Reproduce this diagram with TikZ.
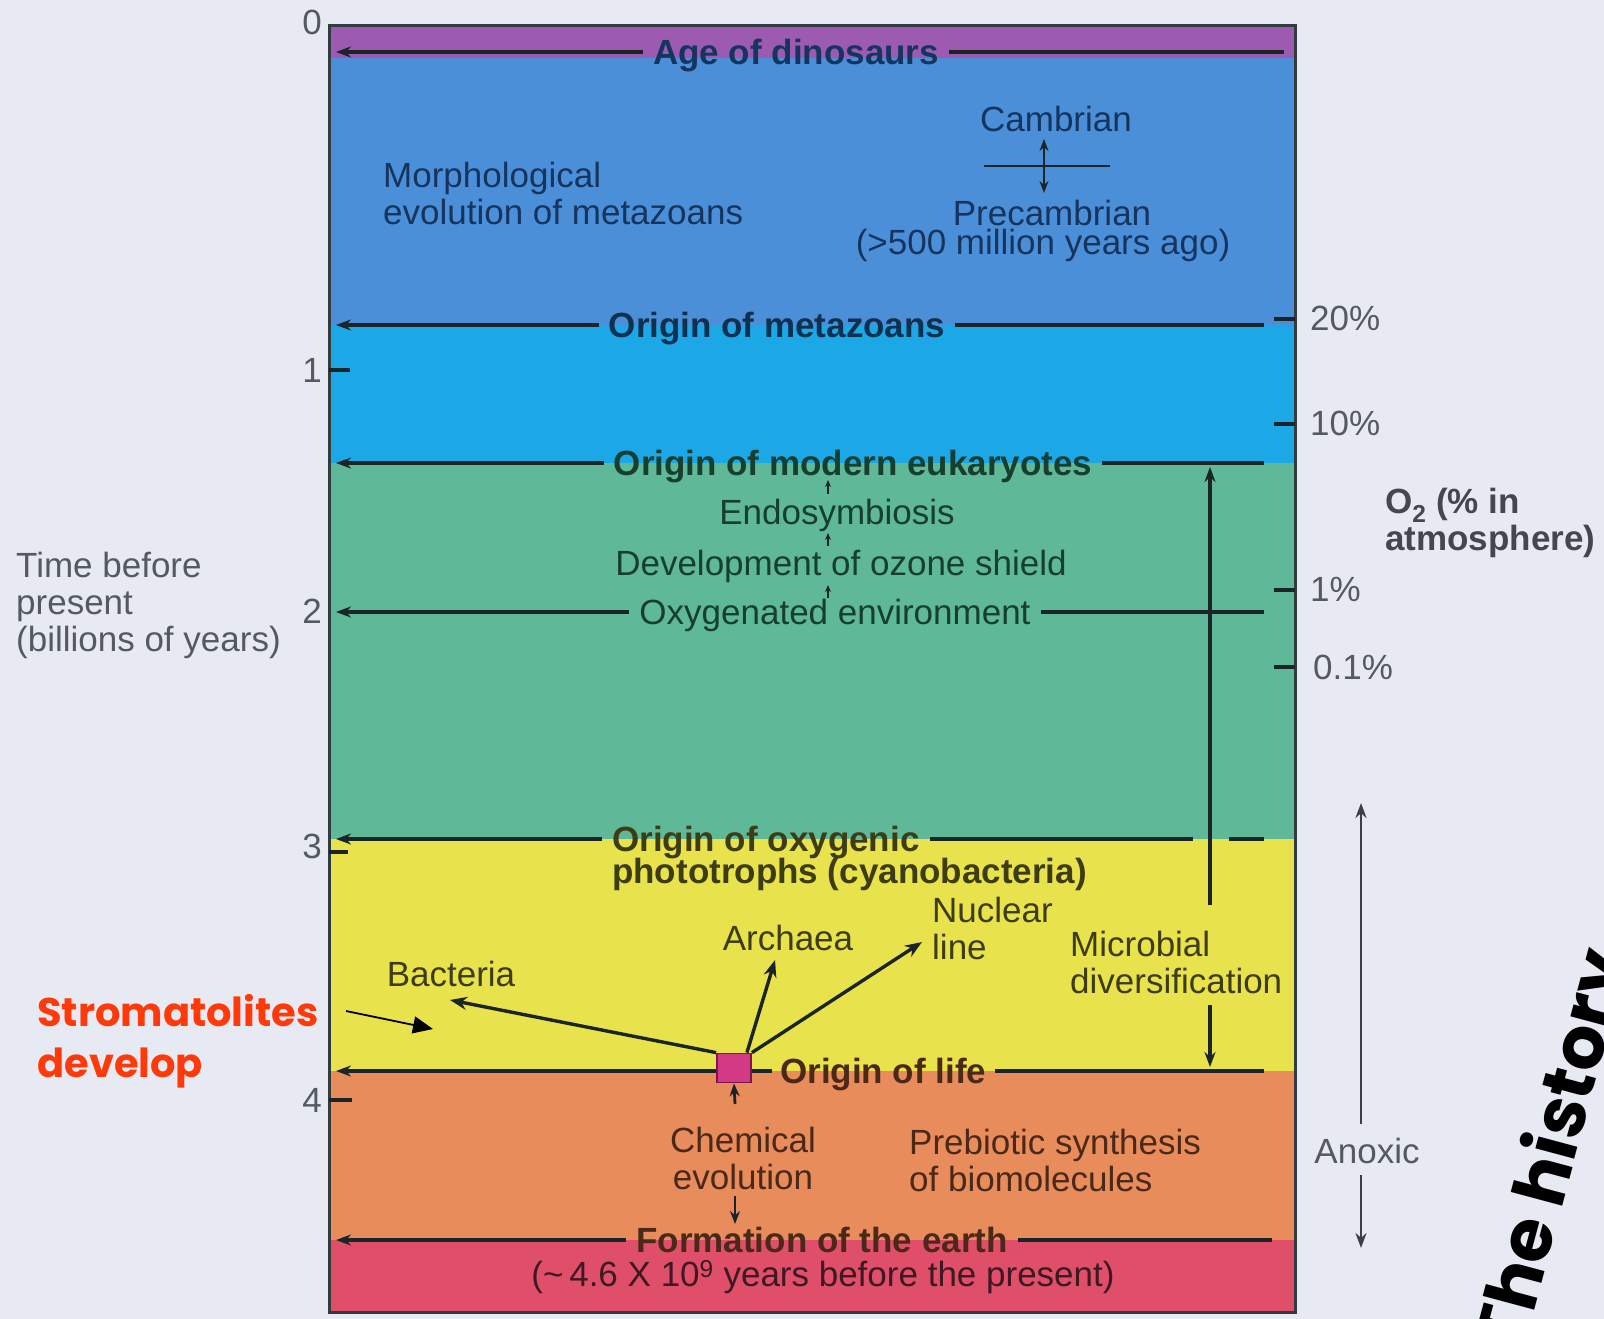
\documentclass[tikz,border=0pt]{standalone}
\usepackage{fontspec}
\setmainfont{Liberation Sans}
\newfontfamily\comicf{Poppins}
\usetikzlibrary{arrows.meta}
\definecolor{bgc}{HTML}{E7EAF2}
\definecolor{purp}{HTML}{9C5BB1}
\definecolor{blu}{HTML}{4C8FD9}
\definecolor{cya}{HTML}{1CA7E7}
\definecolor{grn}{HTML}{5FB999}
\definecolor{yel}{HTML}{E8E34C}
\definecolor{ora}{HTML}{E98C5B}
\definecolor{redd}{HTML}{E04F69}
\definecolor{ink}{HTML}{1B2527}
\definecolor{graytxt}{HTML}{555A62}
\definecolor{tblue}{HTML}{15345E}
\definecolor{tcya}{HTML}{0E3150}
\definecolor{tgreen}{HTML}{173F2E}
\definecolor{tyel}{HTML}{3E3C14}
\definecolor{tora}{HTML}{4A2919}
\definecolor{tred}{HTML}{3E1822}
\definecolor{strom}{HTML}{FF3A0A}
\definecolor{sqc}{HTML}{D23A86}
\definecolor{sqd}{HTML}{7E1448}
\tikzset{
  tl/.style={line width=3.4pt, draw=ink},
  tla/.style={tl, -{Stealth[length=15pt,width=11pt]}},
  tra/.style={tl, -{Stealth[length=17pt,width=13pt]}},
  sma/.style={draw=ink, line width=1.8pt, -{Stealth[length=7pt,width=6pt]}},
  lab/.style={inner sep=0pt, align=left, font=\fontsize{35}{37}\selectfont},
  blab/.style={inner sep=0pt, align=left, font=\fontsize{35}{37}\selectfont\bfseries},
  onl/.style={inner xsep=10pt, text height=25pt, text depth=0pt},
  tick/.style={line width=3.4pt, draw=ink}
}
\begin{document}
\begin{tikzpicture}[x=1pt,y=-1pt]
\useasboundingbox (0,0) rectangle (1604,1319);
\fill[bgc] (0,0) rectangle (1604,1319);
% bands
\fill[purp] (329,26) rectangle (1295,58);
\fill[blu] (329,58) rectangle (1295,325);
\fill[cya] (329,325) rectangle (1295,463);
\fill[grn] (329,463) rectangle (1295,839);
\fill[yel] (329,839) rectangle (1295,1071);
\fill[ora] (329,1071) rectangle (1295,1240);
\fill[redd] (329,1240) rectangle (1295,1312);
\draw[line width=3pt, draw=ink!90] (329,26) rectangle (1295,1312);

% left axis
\foreach \n/\y in {0/22,1/370,2/611,3/846,4/1100}
  \node[lab, text=graytxt, anchor=east] (ax\n) at (322,\y) {\n};
\draw[tick] (329,370) -- (350,370);
\draw[tick] (329,852) -- (348,852);
\draw[tick] (329,1100) -- (352,1100);
\node[lab, text=graytxt, anchor=west] (timelab) at (16,605) {Time before\\present\\(billions of years)};

% right O2 axis
\draw[tick] (1274,319) -- (1295,319);
\draw[tick] (1274,424) -- (1295,424);
\draw[tick] (1274,590) -- (1295,590);
\draw[tick] (1274,667) -- (1295,667);
\node[lab, text=graytxt, anchor=west] (p20) at (1310,318) {20\%};
\node[lab, text=graytxt, anchor=west] (p10) at (1310,423) {10\%};
\node[lab, text=graytxt, anchor=west] (p1) at (1310,589) {1\%};
\node[lab, text=graytxt, anchor=west] (p01) at (1313,667) {0.1\%};
\node[blab, text=graytxt!80!black, anchor=west] (o2) at (1385,523) {O\textsubscript{2} (\% in\\atmosphere)};

% Age of dinosaurs
\coordinate (ageL) at (336,52);
\coordinate (ageR) at (1284,52);
\node[blab, onl, text=tblue] (age) at (796,52) {Age of dinosaurs};
\draw[tla] (age.west |- ageL) -- (ageL);
\draw[tl] (age.east |- ageR) -- (ageR);

% Morphological
\node[lab, text=tblue, anchor=west] (morph) at (383,193) {Morphological\\evolution of metazoans};

% Cambrian / Precambrian
\node[lab, text=tblue] (camb) at (1056,119) {Cambrian};
\node[lab, text=tblue] (precamb) at (1052,213) {Precambrian};
\node[lab, text=tblue] (ma) at (1043,245) {(>500 million years ago)};
\coordinate (cbL) at (984,166);
\coordinate (cbR) at (1110,166);
\coordinate (cbM) at (1044,166);
\coordinate (cbU) at (1044,139);
\coordinate (cbD) at (1044,193);
\draw[draw=ink, line width=2.2pt] (cbL) -- (cbR);
\draw[draw=ink, line width=2.6pt, -{Stealth[length=12pt,width=9pt]}] (cbM) -- (cbU);
\draw[draw=ink, line width=2.6pt, -{Stealth[length=12pt,width=9pt]}] (cbM) -- (cbD);

% Origin of metazoans
\coordinate (metL) at (336,325);
\coordinate (metR) at (1264,325);
\node[blab, onl, text=tcya] (meta) at (777,325) {Origin of metazoans};
\draw[tla] (meta.west |- metL) -- (metL);
\draw[tl] (meta.east |- metR) -- (metR);

% Origin of modern eukaryotes
\coordinate (eukL) at (336,463);
\coordinate (eukR) at (1264,463);
\node[blab, onl, text=tgreen] (euk) at (853,463) {Origin of modern eukaryotes};
\draw[tla] (euk.west |- eukL) -- (eukL);
\draw[tl] (euk.east |- eukR) -- (eukR);

\node[lab, text=tgreen] (endo) at (837,515) {Endosymbiosis};
\node[lab, text=tgreen] (ozone) at (841,566) {Development of ozone shield};
\coordinate (e1a) at (828,494); \coordinate (e1b) at (828,480);
\coordinate (e2a) at (828,546); \coordinate (e2b) at (828,533);
\coordinate (e3a) at (828,598); \coordinate (e3b) at (828,585);
\draw[sma] (e1a) -- (e1b);
\draw[sma] (e2a) -- (e2b);
\draw[sma] (e3a) -- (e3b);

% Oxygenated environment
\coordinate (oxyL) at (336,612);
\coordinate (oxyR) at (1264,612);
\node[lab, onl, text=tgreen] (oxy) at (835,612) {Oxygenated environment};
\draw[tla] (oxy.west |- oxyL) -- (oxyL);
\draw[tl] (oxy.east |- oxyR) -- (oxyR);

% Origin of oxygenic phototrophs
\coordinate (ogL) at (336,839);
\coordinate (ogG1) at (1193,839);
\coordinate (ogG2) at (1229,839);
\coordinate (ogR) at (1264,839);
\node[blab, onl, text=tyel, anchor=west] (og1) at (602,839) {Origin of oxygenic};
\node[blab, text=tyel, anchor=west] (og2) at (612,874) {phototrophs (cyanobacteria)};
\draw[tla] (og1.west |- ogL) -- (ogL);
\draw[tl] (og1.east |- ogL) -- (ogG1);
\draw[tl] (ogG2) -- (ogR);

% Microbial diversification
\coordinate (mdT) at (1210,467);
\coordinate (mdA) at (1210,905);
\coordinate (mdB) at (1210,1005);
\coordinate (mdBot) at (1210,1067);
\node[lab, text=tyel, anchor=west] (micro) at (1070,962) {Microbial\\diversification};
\draw[tla] (mdA) -- (mdT);
\draw[tla] (mdB) -- (mdBot);

% Origin of life
\coordinate (lifeL) at (336,1071);
\coordinate (lifeR) at (1264,1071);
\node[draw=sqd, fill=sqc, line width=1.8pt, minimum width=34pt, minimum height=29pt, inner sep=0pt] (sq) at (734,1068) {};
\node[blab, onl, inner xsep=8pt, text=tora, anchor=west] (life) at (772,1071) {Origin of life};
\draw[tla] (sq.west |- lifeL) -- (lifeL);
\draw[tl] (sq.east |- lifeL) -- (life.west |- lifeL);
\draw[tl] (life.east |- lifeR) -- (lifeR);

% tree
\node[lab, text=tyel] (bact) at (451,974) {Bacteria};
\node[lab, text=tyel] (arch) at (788,938) {Archaea};
\node[lab, text=tyel, anchor=west] (nuc) at (932,928) {Nuclear\\line};
\coordinate (bactT) at (450,1000);
\coordinate (archT) at (775,960);
\coordinate (nucT) at (922,942);
\draw[tra] (sq.north west) -- (bactT);
\draw[tra] ([xshift=-5pt]sq.north east) -- (archT);
\draw[tra] (sq.north east) -- (nucT);

% Chemical evolution
\node[lab, text=tora, align=center] (chem) at (743,1158) {Chemical\\evolution};
\node[lab, text=tora, anchor=west] (preb) at (909,1160) {Prebiotic synthesis\\of biomolecules};
\coordinate (ch1) at (735,1104);
\coordinate (ch2) at (735,1196);
\coordinate (ch3) at (735,1224);
\draw[draw=ink, line width=2.8pt, -{Stealth[length=13pt,width=10pt]}] (ch1) -- (sq.south);
\draw[draw=ink, line width=2.8pt, -{Stealth[length=13pt,width=10pt]}] (ch2) -- (ch3);

% Formation of the earth
\coordinate (forL) at (336,1240);
\coordinate (forR) at (1272,1240);
\node[blab, onl, text=tora] (form) at (822,1240) {Formation of the earth};
\draw[tla] (form.west |- forL) -- (forL);
\draw[tl] (form.east |- forR) -- (forR);
\node[lab, text=tred] (formb) at (823,1277) {(\textasciitilde\,4.6 X 10\textsuperscript{9} years before the present)};

% Anoxic
\coordinate (anU) at (1361,803);
\coordinate (an1) at (1361,1124);
\coordinate (an2) at (1361,1175);
\coordinate (anD) at (1361,1248);
\node[lab, text=graytxt] (anox) at (1367,1151) {Anoxic};
\draw[draw=graytxt!70!black, line width=2.8pt, -{Stealth[length=15pt,width=11pt]}] (an1) -- (anU);
\draw[draw=graytxt!70!black, line width=2.8pt, -{Stealth[length=15pt,width=11pt]}] (an2) -- (anD);

% Stromatolites
\node[inner sep=0pt, align=left, anchor=west, text=strom, font=\comicf\fontsize{40}{51}\selectfont\bfseries] (stro) at (37,1041) {Stromatolites\\develop};
\coordinate (stA) at (346,1011);
\coordinate (stB) at (433,1029);
\draw[black, line width=1.8pt, -{Triangle[length=20pt,width=17pt]}] (stA) -- (stB);

% rotated title
\node[inner sep=0pt, rotate=75, anchor=base west, text=black, font=\comicf\fontsize{72}{78}\selectfont\bfseries] (title) at (1522,1356) {The history};
\end{tikzpicture}
\end{document}
